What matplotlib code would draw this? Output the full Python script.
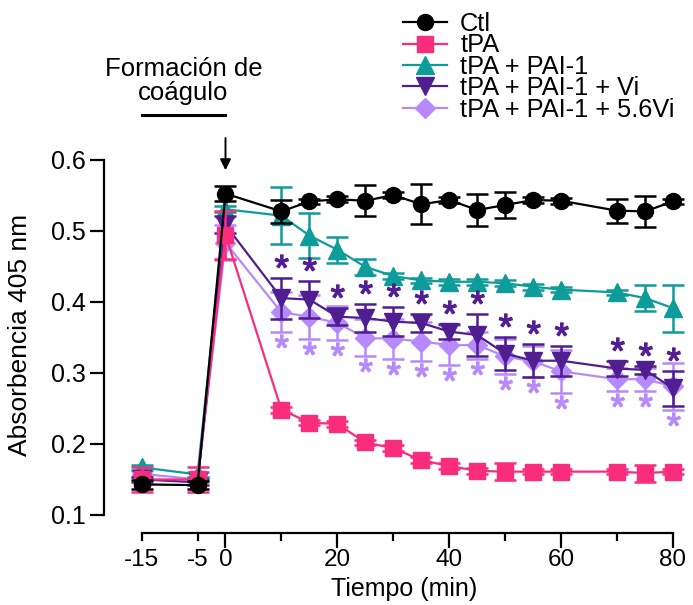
import matplotlib
matplotlib.use('Agg')
import matplotlib.pyplot as plt
import numpy as np
from matplotlib.path import Path
from matplotlib.textpath import TextPath
from matplotlib.font_manager import FontProperties
from matplotlib.transforms import offset_copy

plt.rcParams['font.family'] = ['Liberation Sans', 'DejaVu Sans']

# Tiempo (min)
tiempo = [-15, -5, 0, 10, 15, 20, 25, 30, 35, 40, 45, 50, 55, 60, 70, 75, 80]

ctl = [0.143, 0.142, 0.552, 0.527, 0.541, 0.544, 0.542, 0.550, 0.537, 0.543,
       0.529, 0.536, 0.543, 0.542, 0.528, 0.527, 0.541]
ctl_err = [0.006, 0.006, 0.011, 0.016, 0.004, 0.004, 0.022, 0.004, 0.028, 0.004,
           0.022, 0.018, 0.004, 0.004, 0.017, 0.022, 0.004]

tpa = [0.150, 0.150, 0.494, 0.248, 0.230, 0.228, 0.202, 0.194, 0.177, 0.169,
       0.162, 0.161, 0.161, 0.161, 0.161, 0.159, 0.161]
tpa_err = [0.018, 0.018, 0.034, 0.004, 0.004, 0.004, 0.004, 0.004, 0.004, 0.004,
           0.004, 0.012, 0.004, 0.004, 0.004, 0.012, 0.004]

pai = [0.167, 0.157, 0.530, 0.521, 0.493, 0.473, 0.449, 0.436, 0.430, 0.428,
       0.428, 0.426, 0.421, 0.417, 0.413, 0.405, 0.391]
pai_err = [0.004, 0.004, 0.004, 0.040, 0.032, 0.018, 0.011, 0.004, 0.004, 0.004,
           0.004, 0.004, 0.004, 0.004, 0.004, 0.018, 0.033]

vi = [0.150, 0.146, 0.508, 0.405, 0.403, 0.379, 0.377, 0.372, 0.370, 0.358,
      0.353, 0.327, 0.317, 0.317, 0.306, 0.304, 0.278]
vi_err = [0.004, 0.004, 0.012, 0.029, 0.026, 0.012, 0.020, 0.020, 0.012, 0.011,
          0.029, 0.023, 0.023, 0.021, 0.011, 0.005, 0.025]

vi56 = [0.158, 0.150, 0.483, 0.385, 0.379, 0.370, 0.349, 0.348, 0.344, 0.339,
        0.339, 0.323, 0.316, 0.302, 0.291, 0.291, 0.281]
vi56_err = [0.004, 0.004, 0.025, 0.028, 0.031, 0.024, 0.026, 0.028, 0.028, 0.028,
            0.019, 0.025, 0.022, 0.030, 0.016, 0.016, 0.033]

# puntos con asterisco (significancia)
sig = [10, 15, 20, 25, 30, 35, 40, 45, 50, 55, 60, 70, 75, 80]

series = [
    # etiqueta, media, error, color, marcador, tamano, zorder
    ('tPA + PAI-1 + 5.6Vi', vi56, vi56_err, '#B68AFB', 'D', 10, 2),
    ('tPA + PAI-1', pai, pai_err, '#0E9C9A', '^', 12.5, 3),
    ('tPA + PAI-1 + Vi', vi, vi_err, '#511E91', 'v', 12.5, 4),
    ('tPA', tpa, tpa_err, '#FA2C7C', 's', 11, 5),
    ('Ctl', ctl, ctl_err, 'black', 'o', 11.5, 6),
]

fig = plt.figure(figsize=(6.93, 6.05), dpi=100)
ax = fig.add_axes([104 / 693, 72.3 / 605, 569 / 693, 373.2 / 605])

handles = {}
for lab, m, e, c, mk, ms, z in series:
    ax.errorbar(tiempo, m, yerr=e, fmt='none', ecolor=c, elinewidth=1.8,
                capsize=8, capthick=1.8, zorder=z, clip_on=False)
    h, = ax.plot(tiempo, m, color=c, marker=mk, markersize=ms, lw=1.6,
                 markeredgecolor=c, zorder=z + 0.5, clip_on=False, label=lab)
    handles[lab] = h

# asterisco centrado como marcador
tp = TextPath((0, 0), '*', prop=FontProperties(family='Liberation Sans'))
v = tp.vertices.copy()
v -= (v.min(axis=0) + v.max(axis=0)) / 2
star = Path(v, tp.codes)

i_sig = [tiempo.index(t) for t in sig]
up = offset_copy(ax.transData, fig=fig, x=0, y=11, units='dots')
down = offset_copy(ax.transData, fig=fig, x=0, y=-15, units='dots')
ax.plot(sig, [vi[i] + vi_err[i] for i in i_sig], ls='none', marker=star,
        markersize=18, color='#511E91', transform=up, clip_on=False, zorder=7)
ax.plot(sig, [vi56[i] - vi56_err[i] for i in i_sig], ls='none', marker=star,
        markersize=18, color='#B68AFB', transform=down, clip_on=False, zorder=1)

ax.set_xlim(-21.72, 80)
ax.set_ylim(0.0751, 0.6)
ax.spines['top'].set_visible(False)
ax.spines['right'].set_visible(False)
ax.spines['left'].set_bounds(0.1, 0.6)
ax.spines['bottom'].set_bounds(-15, 80)
for s in ['left', 'bottom']:
    ax.spines[s].set_linewidth(1.6)

ax.set_yticks([0.1, 0.2, 0.3, 0.4, 0.5, 0.6])
ax.set_yticklabels(['0.1', '0.2', '0.3', '0.4', '0.5', '0.6'])
ax.set_xticks([0, 20, 40, 60, 80])
ax.set_xticklabels(['0', '20', '40', '60', '80'])
ax.set_xticks([-15, -5, 10, 30, 50, 70], minor=True)
ax.set_xticklabels(['-15', '-5', '', '', '', ''], minor=True)
ax.tick_params(axis='y', length=10, width=1.6, labelsize=18, pad=3)
ax.tick_params(axis='x', which='major', length=10.8, width=1.6, labelsize=17.5, pad=1.2)
ax.tick_params(axis='x', which='minor', length=5.4, width=1.6, labelsize=17.5, pad=6.6)

ax.set_xlabel('Tiempo (min)', fontsize=18)
ax.xaxis.set_label_coords((404 - 104) / 569, -0.118)
ax.set_ylabel('Absorbencia 405 nm', fontsize=19)
ax.yaxis.set_label_coords(-0.127, 0.53)

# formación de coágulo
ax.text(-7.5, 0.71, 'Formación de\ncoágulo', ha='center', va='center',
        fontsize=18.5, linespacing=1.0, clip_on=False)
ax.plot([-15, 0], [0.6626, 0.6626], color='black', lw=2.2, clip_on=False)
ax.annotate('', xy=(0, 0.581), xytext=(0, 0.634),
            arrowprops=dict(arrowstyle='-|>', color='black', lw=1.4,
                            mutation_scale=16), annotation_clip=False)

orden = ['Ctl', 'tPA', 'tPA + PAI-1', 'tPA + PAI-1 + Vi', 'tPA + PAI-1 + 5.6Vi']
fig.legend([handles[k] for k in orden], orden, loc='upper left',
           bbox_to_anchor=(403 / 693, 1 - 12 / 605), frameon=False,
           fontsize=18.3, borderpad=0, borderaxespad=0, handlelength=1.75,
           handletextpad=0.5, labelspacing=-0.1)

fig.savefig('out.png', dpi=100)
